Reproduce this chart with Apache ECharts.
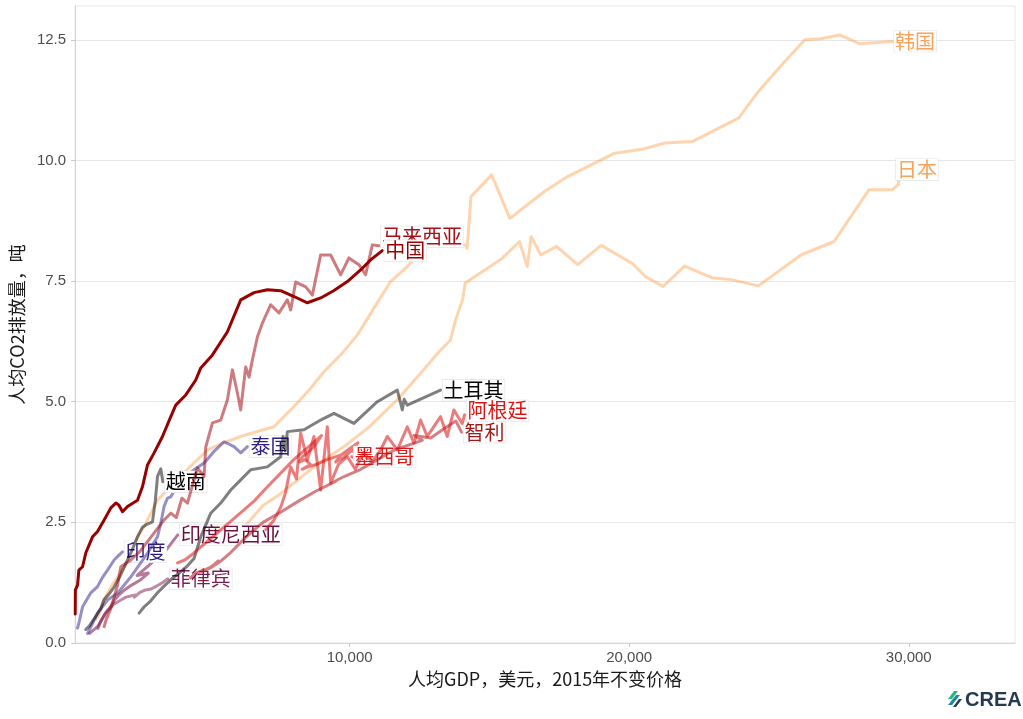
<!DOCTYPE html>
<html>
<head>
<meta charset="utf-8">
<script src="https://cdn.jsdelivr.net/npm/echarts@6/dist/echarts.min.js"></script>
<style>
  html, body { margin: 0; padding: 0; background: #ffffff; }
  #chart { width: 1023px; height: 719px; }
</style>
</head>
<body>
<div id="chart"></div>
<script>
// Per-capita GDP (constant 2015 US$) vs per-capita CO2 emissions (t), one path per country.
const xTicks = [10000, 20000, 30000];
const yTicks = [0, 2.5, 5, 7.5, 10, 12.5];

const china = [[185,0.6],[190,1.1],[268,1.2],[315,1.51],[361,1.51],[447,1.58],[565,1.87],[804,2.2],[983,2.31],[1219,2.55],[1458,2.8],[1637,2.9],[1744,2.86],[1876,2.72],[2055,2.83],[2412,2.96],[2591,3.24],[2770,3.69],[3006,3.94],[3306,4.28],[3603,4.69],[3781,4.93],[4139,5.14],[4496,5.45],[4675,5.7],[5093,5.97],[5629,6.45],[6105,7.11],[6580,7.26],[7059,7.32],[7534,7.3],[8009,7.18],[8488,7.05],[8963,7.15],[9428,7.3],[9918,7.49],[10393,7.73],[10751,7.94],[11169,8.13]];

const malaysia = [[1219,0.34],[1300,0.5],[1450,0.7],[1550,0.9],[1700,1.2],[1815,1.58],[2173,1.72],[2500,1.9],[2900,2.2],[3363,2.55],[3603,2.69],[3800,2.6],[4000,3.0],[4200,2.9],[4436,3.38],[4557,3.63],[4793,3.45],[4853,4.06],[5093,4.56],[5390,4.62],[5629,5.04],[5808,5.66],[5986,5.18],[6104,4.83],[6283,5.72],[6401,5.51],[6523,5.87],[6701,6.34],[6880,6.63],[7177,7.01],[7473,6.84],[7773,7.11],[7892,6.9],[8070,7.48],[8428,7.38],[8667,7.21],[8963,8.04],[9321,8.04],[9678,7.63],[9975,7.98],[10332,7.84],[10572,7.63],[10811,8.25],[11047,8.23]];

const korea = [[950,0.5],[1050,0.6],[1219,0.9],[1500,1.2],[1800,1.45],[2055,1.69],[2412,2.2],[2650,2.41],[3127,2.96],[3603,3.24],[4199,3.6],[4914,4.0],[5500,4.15],[6200,4.3],[7294,4.48],[8009,4.9],[8606,5.28],[9081,5.62],[9678,5.97],[10275,6.38],[10869,6.94],[11466,7.49],[12062,7.8],[12538,8.11],[12895,8.25],[13538,8.25],[14135,8.25],[14203,8.18],[14342,9.25],[15079,9.7],[15733,8.8],[16980,9.36],[17813,9.67],[19481,10.15],[20452,10.23],[21287,10.36],[22259,10.39],[23924,10.88],[24618,11.43],[25519,12.02],[26283,12.5],[26841,12.52],[27534,12.6],[28227,12.42],[29546,12.47]];

const japan = [[6300,2.45],[6900,2.85],[7545,3.1],[8724,3.65],[9800,4.07],[10700,4.48],[11705,5.04],[12538,5.59],[13253,6.07],[13610,6.28],[13790,6.7],[14038,7.11],[14135,7.46],[15454,7.97],[16076,8.32],[16354,7.8],[16494,8.42],[16840,8.04],[17398,8.22],[18160,7.84],[18996,8.24],[20103,7.87],[20590,7.59],[21215,7.39],[21980,7.81],[22952,7.57],[23646,7.53],[24618,7.4],[26143,8.04],[27326,8.32],[28574,9.39],[29407,9.39],[29643,9.51],[29614,9.81]];

const turkey = [[2471,0.62],[2650,0.75],[2850,0.85],[3127,1.04],[3400,1.2],[3603,1.31],[3900,1.45],[4200,1.6],[4436,1.75],[4675,2.2],[5032,2.69],[5390,2.9],[5747,3.17],[6104,3.38],[6462,3.59],[7058,3.65],[7534,3.86],[7620,4.28],[7700,3.98],[7773,4.38],[8367,4.42],[8963,4.62],[9440,4.76],[10155,4.55],[10990,5.0],[11705,5.24],[11884,4.83],[11950,5.05],[12062,4.93],[13253,5.24]];

const argentina = [[7000,2.35],[7300,2.55],[7545,2.83],[7700,3.1],[7892,3.65],[8100,3.4],[8248,4.35],[8488,3.79],[8724,4.28],[8963,3.17],[9201,4.48],[9321,3.31],[9600,3.7],[9918,3.86],[10200,3.6],[10500,3.95],[10800,3.75],[11108,4.0],[11347,4.28],[11705,4.0],[12062,4.48],[12301,4.14],[12538,4.62],[12777,4.28],[13253,4.69],[13492,4.28],[13727,4.83],[14027,4.55],[14112,4.73]];

const chile = [[4300,1.35],[4500,1.45],[4800,1.5],[5100,1.6],[5300,1.7],[5000,1.55],[4700,1.5],[5000,1.55],[5400,1.7],[5700,1.85],[6300,2.2],[6900,2.5],[7500,2.7],[8200,2.95],[8800,3.15],[9500,3.35],[9300,3.3],[9800,3.45],[10400,3.6],[11000,3.8],[11600,4.0],[12100,4.1],[12600,4.2],[12300,4.3],[12900,4.25],[13400,4.45],[13800,4.6],[14003,4.37]];

const mexico = [[3842,1.66],[4100,1.72],[4400,1.85],[4700,2.0],[5000,2.15],[5300,2.3],[5600,2.45],[5900,2.6],[6200,2.75],[6600,2.95],[7000,3.2],[7500,3.5],[8000,3.8],[8500,4.05],[9000,4.3],[8700,4.05],[8300,3.85],[8200,3.75],[8400,3.8],[8600,3.7],[8300,3.6],[8500,3.65],[8800,3.7],[9200,3.8],[9700,3.9],[9500,3.75],[9800,3.85],[10100,4.0],[10300,4.15],[9700,3.9],[10000,4.0],[10200,3.95],[10300,3.8],[10071,3.86]];

const thailand = [[625,0.2],[800,0.4],[983,0.62],[1340,0.89],[1697,1.03],[2173,1.37],[2770,1.86],[3127,2.2],[3245,2.48],[3363,2.83],[3485,3.0],[3603,3.03],[3899,3.32],[4436,3.59],[4793,3.73],[5150,3.97],[5508,4.17],[5865,4.07],[6104,3.94],[6344,4.07]];

const vietnam = [[560,0.28],[620,0.3],[700,0.36],[800,0.45],[950,0.58],[1100,0.72],[1210,0.89],[1400,1.02],[1576,1.16],[1800,1.4],[2000,1.65],[2200,1.9],[2412,2.2],[2591,2.4],[2750,2.46],[2948,2.51],[3050,2.95],[3127,3.45],[3245,3.61],[3318,3.34]];

const indonesia = [[700,0.2],[750,0.22],[800,0.25],[900,0.3],[1000,0.35],[1150,0.5],[1300,0.65],[1450,0.75],[1600,0.9],[1750,1.0],[1950,1.1],[2200,1.2],[2500,1.3],[2800,1.45],[2400,1.4],[2600,1.5],[2800,1.6],[3000,1.7],[3200,1.8],[3400,1.9],[3600,2.05],[3853,2.24]];

const india = [[267,0.31],[330,0.45],[447,0.75],[600,0.9],[743,1.04],[983,1.17],[1150,1.35],[1340,1.51],[1576,1.72],[1750,1.82],[1876,1.89]];

const philippines = [[1000,0.3],[1100,0.45],[1250,0.6],[1400,0.7],[1550,0.8],[1700,0.85],[1850,0.9],[2000,0.95],[2200,0.98],[2400,1.0],[2300,0.95],[2500,1.05],[2700,1.1],[2900,1.12],[3100,1.18],[3300,1.25],[3497,1.33]];

// name, data, line colour, line opacity, label colour, label offset
const countries = [
  ['韩国', korea, '#fd9f4c', 0.45, '#f9a25a', [-4, 0]],
  ['日本', japan, '#fd9f4c', 0.45, '#f9a25a', [-4, 0]],
  ['菲律宾', philippines, '#7a1a4e', 0.5, '#7a1f50', [0, 0]],
  ['印度尼西亚', indonesia, '#7a0f45', 0.55, '#6b0f3f', [0, 0]],
  ['印度', india, '#2d1e8f', 0.5, '#2d1e7f', [0, 0]],
  ['泰国', thailand, '#2d1e8f', 0.5, '#2d1e7f', [0, 0]],
  ['越南', vietnam, '#000000', 0.5, '#000000', [0, 0]],
  ['土耳其', turkey, '#000000', 0.5, '#000000', [0, 0]],
  ['墨西哥', mexico, '#dd1111', 0.55, '#e01a1a', [0, 0]],
  ['智利', chile, '#b0181c', 0.55, '#9e1a1a', [0, 0]],
  ['阿根廷', argentina, '#dd1111', 0.55, '#dd1414', [0, -4]],
  ['马来西亚', malaysia, '#a50f15', 0.55, '#a50f15', [0, -9]],
  ['中国', china, '#990000', 1, '#990000', [0, 0]]
];

const cjk = '"Noto Sans CJK SC", "Noto Sans", sans-serif';
const latin = '"Liberation Sans", Arial, sans-serif';

const series = countries.map(([name, data, color, opacity, labelColor, offset], i) => ({
  name,
  type: 'line',
  data,
  z: 2 + i * 0.01,
  showSymbol: false,
  symbol: 'none',
  silent: true,
  animation: false,
  lineStyle: { color, width: 3, opacity, join: 'round', cap: 'round' },
  endLabel: {
    show: true,
    formatter: name,
    color: labelColor,
    fontFamily: cjk,
    fontSize: 20,
    lineHeight: 21,
    backgroundColor: '#ffffff',
    borderColor: '#e3e3e3',
    borderWidth: 0.6,
    padding: [0, 1, 0, 1],
    distance: 2,
    offset
  },
  labelLayout: { hideOverlap: false }
}));

const chart = echarts.init(document.getElementById('chart'), null, { renderer: 'canvas' });

chart.setOption({
  animation: false,
  backgroundColor: '#ffffff',
  grid: {
    left: 74, right: 8, top: 6, bottom: 76,
    show: true, borderColor: '#e6e6e6', borderWidth: 1, backgroundColor: 'transparent'
  },
  xAxis: {
    type: 'value',
    min: 180,
    max: 33800,
    name: '人均GDP，美元，2015年不变价格',
    nameLocation: 'middle',
    nameGap: 26,
    nameTextStyle: { fontFamily: cjk, fontSize: 18, color: '#1a1a1a' },
    axisLine: { show: true, lineStyle: { color: '#d4d4d4', width: 1 } },
    axisTick: { show: true, length: 4, lineStyle: { color: '#c8c8c8' }, customValues: xTicks },
    axisLabel: {
      customValues: xTicks,
      margin: 7,
      fontFamily: latin,
      fontSize: 15,
      color: '#4d4d4d',
      formatter: v => v.toLocaleString('en-US')
    },
    splitLine: { show: false }
  },
  yAxis: {
    type: 'value',
    min: 0,
    max: 13.2,
    name: '人均CO2排放量，吨',
    nameLocation: 'middle',
    nameGap: 47,
    nameRotate: 90,
    nameTextStyle: { fontFamily: cjk, fontSize: 18, color: '#1a1a1a' },
    axisLine: { show: true, lineStyle: { color: '#d4d4d4', width: 1 } },
    axisTick: { show: true, length: 4, lineStyle: { color: '#c8c8c8' }, customValues: yTicks },
    axisLabel: {
      customValues: yTicks,
      margin: 9,
      fontFamily: latin,
      fontSize: 15,
      color: '#4d4d4d',
      formatter: v => v.toFixed(1)
    },
    splitLine: { show: true, lineStyle: { color: '#e6e6e6', width: 1 } }
  },
  series,
  graphic: [
    {
      type: 'group',
      left: 948,
      top: 690,
      children: [
        { type: 'polygon', shape: { points: [[1, 9], [7, 1], [11, 1], [5, 9]] }, style: { fill: '#2bb57f' } },
        { type: 'polygon', shape: { points: [[1, 15], [9, 5], [13, 5], [5, 15]] }, style: { fill: '#1e86a3' } },
        { type: 'polygon', shape: { points: [[6, 17], [12, 9], [15, 9], [9, 17]] }, style: { fill: '#26394f' } },
        { type: 'text', x: 18, y: 0, style: { text: 'CREA', fontFamily: latin, fontWeight: 'bold', fontSize: 20, fill: '#233a52' } }
      ]
    }
  ]
});
</script>
</body>
</html>
